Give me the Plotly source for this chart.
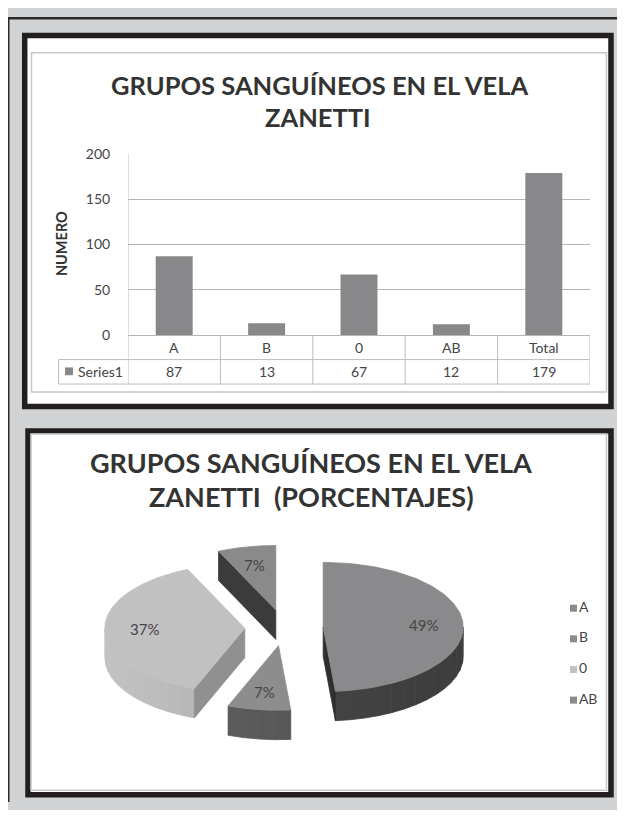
import numpy as np
import plotly.graph_objects as go

# ---------------- data ----------------
categories = ["A", "B", "0", "AB", "Total"]
counts = [87, 13, 67, 12, 179]
series_name = "Series1"
y_ticks = [0, 50, 100, 150, 200]
bar_title = ["GRUPOS SANGUÍNEOS EN EL VELA", "ZANETTI"]
y_title = "NUMERO"

pie_labels = ["A", "B", "0", "AB"]
pie_values = [87, 13, 67, 12]
pie_title = ["GRUPOS SANGUÍNEOS EN EL VELA", "ZANETTI \u00a0(PORCENTAJES)"]

# ---------------- styles ----------------
PAGE_W, PAGE_H = 625, 818
OFF = 8                      # default page margin of the html body
W, H = PAGE_W - 2 * OFF, PAGE_H - 2 * OFF
FONT = "Lato, Open Sans, sans-serif"
TITLE_FONT = "Lato, Open Sans, sans-serif"
TXT = "#454545"
BAR_COLOR = "#88888a"
GRID = "#b5b5b5"
TABLE_LINE = "#bdbdbd"
FRAME = "#231f20"
PAGE_GRAY = "#d2d3d5"
top_colors = ["#8a8a8c", "#8d8d8d", "#c1c1c1", "#8a8a8a"]
wall_colors = ["#434343", "#585858", "#b1b1b1", "#3b3b3b"]
edge_colors = ["#2f2f2f", "#4a4a4a", "#909090", "#3b3b3b"]

# pie geometry (page pixels)
CX, CY, RX, RY, DEPTH, EXPLODE = 284, 632, 140, 66, 30, 0.28
SHADE = 0.10


def px(x):
    return (x - OFF) / W


def py(y):
    return 1 - (y - OFF) / H


def note(x, y, text, size, color=TXT, xref="paper", yref="paper", xanchor="center", angle=0, family=FONT):
    return dict(x=x, y=y, xref=xref, yref=yref, text=text, showarrow=False, xanchor=xanchor,
                yanchor="middle", textangle=angle, font=dict(family=family, size=size, color=color))


def shade(hex_color, f):
    r, g, b = (int(hex_color[k:k + 2], 16) for k in (1, 3, 5))
    return "rgb(%d,%d,%d)" % tuple(max(0, min(255, round(c * f))) for c in (r, g, b))


fig = go.Figure()

# ---------------- bar chart ----------------
fig.add_trace(go.Bar(x=categories, y=counts, marker=dict(color=BAR_COLOR, line=dict(width=0)),
                     xaxis="x", yaxis="y", showlegend=False, hoverinfo="x+y"))

shapes = []
# outer frame lines (top and left)
shapes.append(dict(type="rect", xref="paper", yref="paper", x0=0, x1=1, y0=py(10.5), y1=1,
                   fillcolor="#2b2b2b", line=dict(width=0), layer="below"))
shapes.append(dict(type="rect", xref="paper", yref="paper", x0=0, x1=px(9.5), y0=0, y1=1,
                   fillcolor="#2b2b2b", line=dict(width=0), layer="below"))
# top panel
shapes.append(dict(type="rect", xref="paper", yref="paper", x0=px(24.7), x1=px(611), y0=py(406), y1=py(27),
                   fillcolor="white", line=dict(color=FRAME, width=5.5), layer="below"))
shapes.append(dict(type="rect", xref="paper", yref="paper", x0=px(31.5), x1=px(606.5), y0=py(391), y1=py(44.5),
                   fillcolor="rgba(0,0,0,0)", line=dict(color="#c8c8c8", width=1.5), layer="below"))
# bottom panel
shapes.append(dict(type="rect", xref="paper", yref="paper", x0=px(28), x1=px(611), y0=py(802.5), y1=py(431),
                   fillcolor="white", line=dict(color=FRAME, width=5.5), layer="below"))
shapes.append(dict(type="rect", xref="paper", yref="paper", x0=px(31), x1=px(606.5), y0=py(798), y1=py(434),
                   fillcolor="rgba(0,0,0,0)", line=dict(color="#c8c8c8", width=1.5), layer="below"))

# data table lines
for yy in (358, 383):
    shapes.append(dict(type="line", xref="paper", yref="paper", x0=px(58.5), x1=px(590), y0=py(yy), y1=py(yy),
                       line=dict(color=TABLE_LINE, width=1)))
for k in range(len(categories) + 1):
    top = 148 if k == 0 else 333
    shapes.append(dict(type="line", xref="x", yref="paper", x0=k - 0.5, x1=k - 0.5, y0=py(383), y1=py(top),
                       line=dict(color=TABLE_LINE, width=1)))
shapes.append(dict(type="line", xref="paper", yref="paper", x0=px(58.5), x1=px(58.5), y0=py(383), y1=py(358),
                   line=dict(color=TABLE_LINE, width=1)))
# series key in table
shapes.append(dict(type="rect", xref="paper", yref="paper", x0=px(65), x1=px(73), y0=py(374), y1=py(366),
                   fillcolor=BAR_COLOR, line=dict(width=0)))

annotations = []
for i, (c, v) in enumerate(zip(categories, counts)):
    annotations.append(note(i, py(345.5), c, 14, xref="x"))
    annotations.append(note(i, py(370.5), str(v), 14, xref="x"))
annotations.append(note(px(75.5), py(370.5), series_name, 14, xanchor="left"))
annotations.append(note(px(61), py(240), "<b>%s</b>" % y_title, 14.5, color="#333333", angle=-90))
# titles
annotations.append(note(px(319), py(77), "<b>%s</b>" % bar_title[0], 25.5, color="#333333", family=TITLE_FONT))
annotations.append(note(px(318), py(110), "<b>%s</b>" % bar_title[1], 25.5, color="#333333", family=TITLE_FONT))
annotations.append(note(px(311), py(463), "<b>%s</b>" % pie_title[0], 27, color="#333333", family=TITLE_FONT))
annotations.append(note(px(311.5), py(497.5), "<b>%s</b>" % pie_title[1], 27, color="#333333", family=TITLE_FONT))

# ---------------- 3D exploded pie ----------------
total = float(sum(pie_values))
fracs = [v / total for v in pie_values]
starts = np.concatenate([[0.0], np.cumsum(fracs)[:-1]]) * 360.0
ends = np.cumsum(fracs) * 360.0


def rim(ox, oy, angles, dz=0.0, r=1.0):
    t = np.radians(angles)
    return ox + r * RX * np.sin(t), oy - r * RY * np.cos(t) + dz


slices = []
for i in range(len(pie_values)):
    a1, a2 = starts[i], ends[i]
    m = (a1 + a2) / 2
    ox = CX + EXPLODE * RX * np.sin(np.radians(m))
    oy = CY - EXPLODE * RY * np.cos(np.radians(m))
    slices.append((oy, i, a1, a2, m, ox))
slices.sort()


def poly(xs, ys, color):
    fig.add_trace(go.Scatter(x=list(xs) + [xs[0]], y=list(ys) + [ys[0]], xaxis="x2", yaxis="y2",
                             mode="lines", fill="toself", fillcolor=color,
                             line=dict(color=color, width=0.8), hoverinfo="skip", showlegend=False))


for oy, i, a1, a2, m, ox in slices:
    # outer curved wall (front half only), shaded in bands
    lo, hi = max(a1, 90.0), min(a2, 270.0)
    if hi > lo:
        nb = max(2, int((hi - lo) / 6))
        edges = np.linspace(lo, hi, nb + 1)
        for b0, b1 in zip(edges[:-1], edges[1:]):
            ang = np.linspace(b0, b1, 8)
            tx, ty = rim(ox, oy, ang)
            bx, by = rim(ox, oy, ang[::-1], DEPTH)
            f = 1.0 - SHADE * np.sin(np.radians((b0 + b1) / 2))
            poly(np.concatenate([tx, bx]), np.concatenate([ty, by]), shade(wall_colors[i], f))
    # radial walls facing the viewer
    for edge, normal in ((a1, a1 - 90.0), (a2, a2 + 90.0)):
        if np.cos(np.radians(normal)) < -0.01:
            ex, ey = rim(ox, oy, np.array([edge]))
            xs = [ox, ex[0], ex[0], ox]
            ys = [oy, ey[0], ey[0] + DEPTH, oy + DEPTH]
            poly(xs, ys, edge_colors[i])
    # top face
    ang = np.linspace(a1, a2, 120)
    tx, ty = rim(ox, oy, ang)
    poly(np.concatenate([[ox], tx]), np.concatenate([[oy], ty]), top_colors[i])
    # percentage label
    lx, ly = rim(ox, oy, np.array([m]), 0.0, 0.72)
    annotations.append(note(lx[0], ly[0], "%d%%" % round(fracs[i] * 100), 15, xref="x2", yref="y2"))

# pie legend
fig.add_trace(go.Scatter(x=[573.5] * len(pie_labels), y=[612 + k * 31.3 for k in range(len(pie_labels))],
                         xaxis="x2", yaxis="y2", mode="markers+text",
                         marker=dict(symbol="square", size=7, color=top_colors, line=dict(width=0)),
                         text=pie_labels, textposition="middle right",
                         textfont=dict(family=FONT, size=14, color=TXT), hoverinfo="skip", showlegend=False))

fig.update_layout(
    width=W, height=H, margin=dict(l=0, r=0, t=0, b=0),
    paper_bgcolor=PAGE_GRAY, plot_bgcolor="rgba(0,0,0,0)",
    showlegend=False, bargap=0.6,
    xaxis=dict(domain=[px(128), px(590)], type="category", range=[-0.5, 4.5], showticklabels=False,
               showgrid=False, zeroline=False, showline=False, anchor="y", fixedrange=True),
    yaxis=dict(domain=[py(333), py(148)], range=[0, 200], tickvals=y_ticks, showgrid=True, gridcolor=GRID,
               gridwidth=1, zeroline=True, zerolinecolor=GRID, zerolinewidth=1, showline=False,
               ticks="outside", ticklen=14, tickcolor="rgba(0,0,0,0)",
               tickfont=dict(family=FONT, size=14, color=TXT), anchor="x", fixedrange=True),
    xaxis2=dict(domain=[0, 1], range=[OFF, OFF + W], visible=False, anchor="y2", fixedrange=True),
    yaxis2=dict(domain=[0, 1], range=[OFF + H, OFF], visible=False, anchor="x2", fixedrange=True),
    shapes=shapes, annotations=annotations,
)

fig.write_html("out.html", config={"displayModeBar": False})
